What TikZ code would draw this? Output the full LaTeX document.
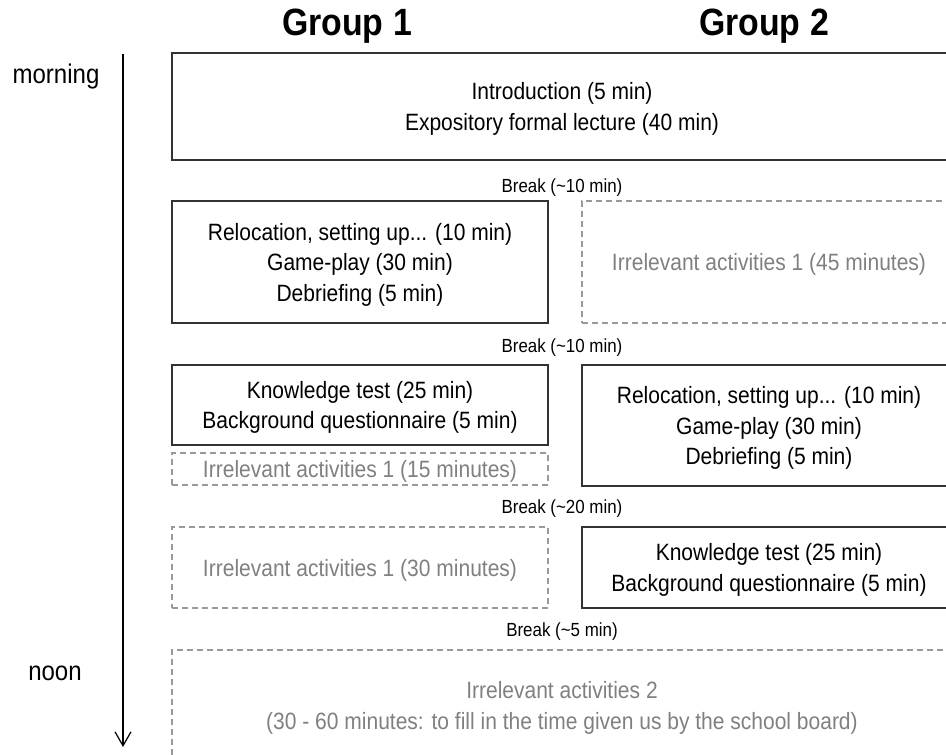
\documentclass[tikz,border=0pt]{standalone}
\usepackage{fontspec}
\setmainfont[FakeStretch=0.89]{Liberation Sans}
\usetikzlibrary{arrows.meta}

\tikzset{
	plan/.style={draw=black!80, line width=1.6pt, align=center, anchor=north west,
		inner sep=0pt, outer sep=0pt, text depth=0pt, font=\fontsize{23.6}{30.5}\selectfont},
	idle/.style={draw=black!40, line width=1.1pt, dash pattern=on 6pt off 4pt,
		text=black!50, align=center, anchor=north west, inner sep=0pt, outer sep=0pt,
		text depth=0pt, font=\fontsize{23.6}{30.5}\selectfont},
	brk/.style={anchor=base, font=\fontsize{19}{22}\selectfont},
	daytime/.style={anchor=base, font=\fontsize{27}{31}\selectfont},
	heading/.style={anchor=base, font=\bfseries\fontsize{38}{44}\selectfont}
}

\begin{document}
\begin{tikzpicture}[x=1pt, y=-1pt]
	\useasboundingbox (0,0) rectangle (946,755);
	\clip (0,0) rectangle (946,755);
	
	% Group headings
	\node[heading] (g1) at (347,35) {Group 1};
	\node[heading] (g2) at (764,35) {Group 2};
	
	% Time axis
	\coordinate (start) at (123,54);
	\coordinate (end) at (123,747);
	\draw[-{Straight Barb[length=14pt,width=16pt]}, line width=1.2pt] (start) -- (end);
	\node[daytime] (morning) at (56,83) {morning};
	\node[daytime] (noon) at (55,680) {noon};
	
	% Common part
	\node[plan, minimum width=780pt, minimum height=107pt] (intro) at (172,53)
		{Introduction (5 min)\\Expository formal lecture (40 min)};
	\node[brk] (brk1) at (562,192) {Break (\textasciitilde10 min)};
	
	% First session
	\node[plan, minimum width=376pt, minimum height=122pt] (play1) at (172,201)
		{Relocation, setting up... (10 min)\\Game-play (30 min)\\Debriefing (5 min)};
	\node[idle, minimum width=374pt, minimum height=122pt] (idle1) at (582,201)
		{Irrelevant activities 1 (45 minutes)};
	\node[brk] (brk2) at (562,352) {Break (\textasciitilde10 min)};
	
	% Second session
	\node[plan, minimum width=376pt, minimum height=80pt] (test1) at (172,365)
		{Knowledge test (25 min)\\Background questionnaire (5 min)};
	\node[idle, minimum width=376pt, minimum height=32pt] (idle2) at (172,453)
		{Irrelevant activities 1 (15 minutes)};
	\node[plan, minimum width=374pt, minimum height=121pt] (play2) at (582,365)
		{Relocation, setting up... (10 min)\\Game-play (30 min)\\Debriefing (5 min)};
	\node[brk] (brk3) at (562,513) {Break (\textasciitilde20 min)};
	
	% Third session
	\node[idle, minimum width=376pt, minimum height=81pt] (idle3) at (172,527)
		{Irrelevant activities 1 (30 minutes)};
	\node[plan, minimum width=374pt, minimum height=81pt] (test2) at (582,527)
		{Knowledge test (25 min)\\Background questionnaire (5 min)};
	\node[brk] (brk4) at (562,636) {Break (\textasciitilde5 min)};
	
	% Until noon
	\node[idle, minimum width=780pt, minimum height=111pt] (idle4) at (172,650)
		{Irrelevant activities 2\\(30 - 60 minutes: to fill in the time given us by the school board)};
\end{tikzpicture}
\end{document}
